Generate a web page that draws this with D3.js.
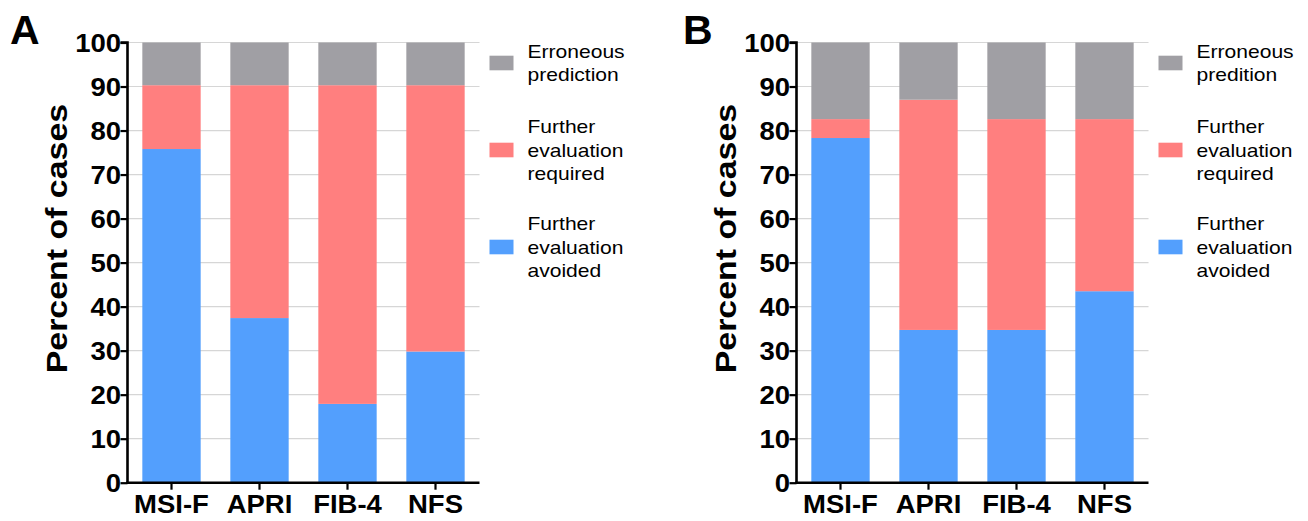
<!DOCTYPE html>
<html><head><meta charset="utf-8">
<script src="https://cdn.jsdelivr.net/npm/d3@7"></script>
<style>html,body{margin:0;padding:0;background:#fff;}svg{display:block;}</style>
</head><body>
<svg id="chart" width="1308" height="521"></svg>
<script>
const categories = ["MSI-F", "APRI", "FIB-4", "NFS"];
const yTicks = [0, 10, 20, 30, 40, 50, 60, 70, 80, 90, 100];
const seriesKeys = ["avoided", "required", "erroneous"];
// Panel A
const avoidedA = [75.8, 37.4, 17.9, 29.8];
const requiredA = [14.5, 52.9, 72.4, 60.5];
const erroneousA = [9.7, 9.7, 9.7, 9.7];
// Panel B
const avoidedB = [78.3, 34.7, 34.7, 43.5];
const requiredB = [4.3, 52.3, 47.9, 39.1];
const erroneousB = [17.4, 13.0, 17.4, 17.4];
const legendA = [["Erroneous", "prediction"], ["Further", "evaluation", "required"], ["Further", "evaluation", "avoided"]];
const legendB = [["Erroneous", "predition"], ["Further", "evaluation", "required"], ["Further", "evaluation", "avoided"]];
const yTitle = "Percent of cases";

const colors = {avoided: "#539ffd", required: "#ff7f7f", erroneous: "#a09fa4"};
const legendKeys = ["erroneous", "required", "avoided"];
const FONT = "'Liberation Sans', Arial, Helvetica, sans-serif";
const svg = d3.select("#chart");

function stretchText(g, x, y, txt, size, weight, anchor, sx, rot) {
  const t = g.append("text")
    .attr("transform", `translate(${x},${y})` + (rot ? ` rotate(${rot})` : "") + ` scale(${sx},1)`)
    .attr("font-family", FONT).attr("font-size", size).attr("font-weight", weight)
    .attr("text-anchor", anchor).attr("fill", "#000").text(txt);
  return t;
}

function panel(opts) {
  const {x0, x1, letter, letterX, avoided, required, erroneous, legend} = opts;
  const top = 42.5, bottom = 482.7;
  const g = svg.append("g");
  const rows = categories.map((c, i) => ({cat: c, avoided: avoided[i], required: required[i], erroneous: erroneous[i]}));
  const stack = d3.stack().keys(seriesKeys)(rows);
  const x = d3.scaleBand().domain(categories).range([x0, x1]).paddingInner(0.337).paddingOuter(0.1685);
  const y = d3.scaleLinear().domain([0, 100]).range([bottom, top]);

  // grid
  g.append("g").selectAll("line").data(yTicks.filter(d => d > 0)).join("line")
    .attr("x1", x0).attr("x2", x1).attr("y1", d => y(d)).attr("y2", d => y(d))
    .attr("stroke", "#d6d6d6").attr("stroke-width", 1.2);

  // bars
  g.append("g").selectAll("g").data(stack).join("g").attr("fill", d => colors[d.key])
    .selectAll("rect").data(d => d).join("rect")
    .attr("x", d => x(d.data.cat)).attr("width", x.bandwidth())
    .attr("y", d => y(d[1])).attr("height", d => y(d[0]) - y(d[1]));

  // y axis
  const yAxis = d3.axisLeft(y).tickValues(yTicks).tickSize(7).tickPadding(3).tickFormat(d3.format("d"));
  const ya = g.append("g").attr("transform", `translate(${x0},0)`).call(yAxis);
  ya.select(".domain").attr("stroke", "#000").attr("stroke-width", 2.6).attr("d", `M-7,${y(100)}H0V${bottom + 1.3}`);
  ya.selectAll(".tick line").attr("stroke", "#000").attr("stroke-width", 2.2);
  ya.selectAll(".tick text").remove();
  ya.selectAll(".tick").each(function(d) {
    stretchText(d3.select(this), -6.5, 9, String(d), 25, "bold", "end", 1.1, 0);
  });

  // x axis
  const xAxis = d3.axisBottom(x).tickSize(7).tickSizeOuter(0).tickPadding(4);
  const xa = g.append("g").attr("transform", `translate(0,${bottom})`).call(xAxis);
  xa.select(".domain").attr("stroke", "#000").attr("stroke-width", 2.6).attr("d", `M${x0 - 1.3},0H${x1}`);
  xa.selectAll(".tick line").attr("stroke", "#000").attr("stroke-width", 2.2);
  xa.selectAll(".tick text").remove();
  xa.selectAll(".tick").each(function(d) {
    stretchText(d3.select(this), 0, 30, d, 25, "bold", "middle", 1.1, 0);
  });

  // y title
  stretchText(g, x0 - 61, (top + bottom) / 2 - 24, yTitle, 30, "bold", "middle", 1.13, -90);

  // panel letter
  g.append("text").attr("x", letterX).attr("y", 43.5).attr("font-family", FONT)
    .attr("font-size", 41).attr("font-weight", "bold").text(letter);

  // legend
  const swX = x1 + 10, txX = x1 + 48;
  const swYc = [63, 150, 247];
  const lineH = 23.5;
  legendKeys.forEach((k, i) => {
    g.append("rect").attr("x", swX).attr("y", swYc[i] - 7.3).attr("width", 24).attr("height", 14.6).attr("fill", colors[k]);
    const lines = legend[i];
    const first = swYc[i] - (lines.length - 1) * lineH / 2 + 6.5;
    lines.forEach((ln, j) => {
      stretchText(g, txX, first + j * lineH, ln, 18, "normal", "start", 1.17, 0);
    });
  });
}

panel({x0: 127.5, x1: 479.5, letter: "A", letterX: 10, avoided: avoidedA, required: requiredA, erroneous: erroneousA, legend: legendA});
panel({x0: 796.5, x1: 1148.5, letter: "B", letterX: 683, avoided: avoidedB, required: requiredB, erroneous: erroneousB, legend: legendB});
</script>
</body></html>
